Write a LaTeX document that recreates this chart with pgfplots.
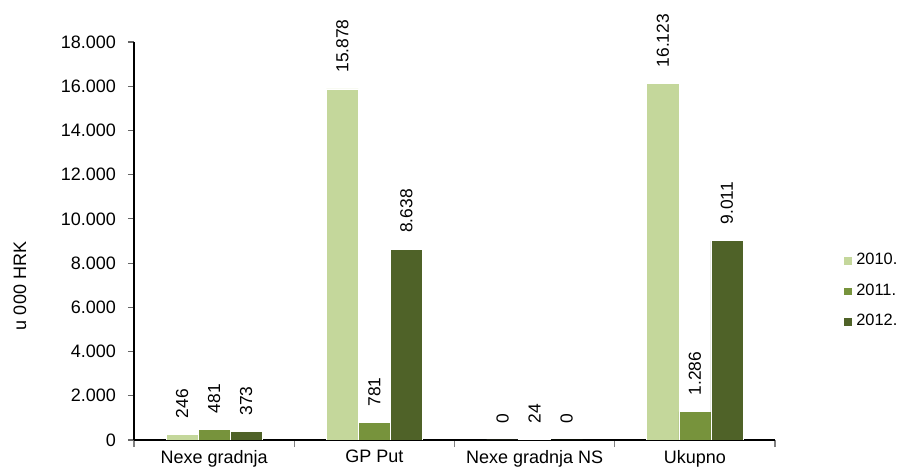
\documentclass[border=0pt]{standalone}
\usepackage{fontspec}
\setmainfont{Liberation Sans}
\usepackage{pgfplots}
\pgfplotsset{compat=1.18}
\definecolor{cA}{RGB}{196,215,155}
\definecolor{cB}{RGB}{119,147,60}
\definecolor{cC}{RGB}{79,98,40}
\begin{document}
\begin{tikzpicture}
\useasboundingbox (0,0) rectangle (451pt,236pt);
\begin{axis}[
  at={(67pt,16pt)}, anchor=south west,
  scale only axis, width=320.5pt, height=199pt,
  font=\fontsize{9}{11}\selectfont,
  /pgf/number format/assume math mode=true,
  /pgf/number format/1000 sep={.},
  ymin=0, ymax=18000, ytick={0,2000,...,18000},
  scaled y ticks=false,
  xmin=-0.5, xmax=3.5, xtick={0,1,2,3},
  xticklabels={Nexe gradnja, GP Put, Nexe gradnja NS, Ukupno},
  minor xtick={-0.5,0.5,1.5,2.5,3.5},
  axis x line*=bottom, axis y line*=left,
  axis line style={black, line width=0.6pt},
  tick align=outside,
  major tick length=3pt, minor tick length=3.5pt,
  major x tick style={draw=none},
  minor x tick style={black!50, line width=0.6pt},
  major y tick style={black!60, line width=0.6pt},
  y tick label style={xshift=-2.5pt},
  x tick label style={yshift=1.5pt},
  ylabel={u 000 HRK},
  ylabel style={at={(axis description cs:-0.178,0.387)}, anchor=center},
  ybar=0pt, bar width=0.2,
  nodes near coords,
  every node near coord/.append style={rotate=90, anchor=west, inner xsep=8pt, font=\fontsize{8.7}{10}\selectfont, black},
  legend style={at={(axis description cs:1.106,0.374)}, anchor=west, draw=none, fill=none,
    font=\fontsize{8.2}{10}\selectfont, row sep=4pt, inner sep=0pt},
  legend cell align=left,
  legend image code/.code={\fill[#1] (0pt,-2.1pt) rectangle (4.2pt,2.1pt);},
]
\addplot[fill=cA, draw=white, line width=0.3pt] coordinates {(0,246) (1,15878) (2,0) (3,16123)};
\addplot[fill=cB, draw=white, line width=0.3pt] coordinates {(0,481) (1,781) (2,24) (3,1286)};
\addplot[fill=cC, draw=white, line width=0.3pt] coordinates {(0,373) (1,8638) (2,0) (3,9011)};
\legend{2010., 2011., 2012.}
\end{axis}
\end{tikzpicture}
\end{document}
